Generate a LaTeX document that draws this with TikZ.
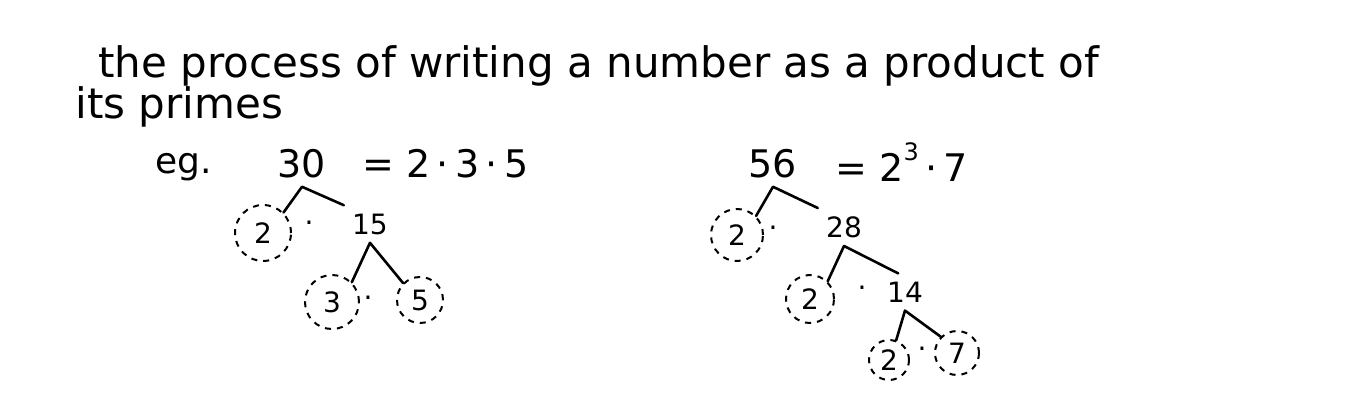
\documentclass[tikz,border=0pt]{standalone}
\usepackage{fontspec}
\setmainfont{DejaVu Sans}
\tikzset{
	txt/.style={anchor=base west, inner sep=0pt, font=\fontsize{21}{25}\selectfont},
	topnum/.style={inner sep=4pt, font=\fontsize{19}{23}\selectfont},
	numb/.style={inner sep=4pt, font=\fontsize{14}{17}\selectfont},
	prime/.style={draw, circle, line width=1pt, dash pattern=on 3pt off 3pt, inner sep=0pt, minimum size=#1, font=\fontsize{14}{17}\selectfont},
	dotnode/.style={inner sep=1pt, font=\fontsize{14}{17}\selectfont},
	branch/.style={line width=1.3pt, line cap=round, line join=round}
}

\begin{document}
\begin{tikzpicture}[x=0.5pt, y=-0.5pt]
			\useasboundingbox (0,0) rectangle (1356,412);
			% definition
			\node[txt] (line1) at (98,77) {the process of writing a number as a product of};
			\node[txt] (line2) at (75,118) {its primes};
			\node[txt, font=\fontsize{18}{22}\selectfont] (eg) at (155,173) {eg.};
			% 30
			\node[topnum] (n30) at (302,164) {30};
			\node[topnum, anchor=west, inner sep=0pt] (eq30) at (362,164) {= 2\,·\,3\,·\,5};
			\node[prime=28pt] (p2) at (263,233) {2};
			\node[dotnode] (d30) at (309,227) {·};
			\node[numb] (n15) at (370,224) {15};
			\node[prime=27pt] (p3) at (332,302) {3};
			\node[dotnode] (d15) at (368,302) {·};
			\node[prime=23pt] (p5) at (420,300) {5};
			\draw[branch] (p2.north east) -- (n30.south) -- (n15.north west);
			\draw[branch] (p3.north east) -- (n15.south) -- (p5.north west);
			% 56
			\node[topnum] (n56) at (773,164) {56};
			\node[topnum, anchor=west, inner sep=0pt] (eq56) at (835,162) {= 2\raisebox{0.55em}{\fontsize{12}{14}\selectfont 3}\,·\,7};
			\node[prime=26pt] (q2a) at (737,235) {2};
			\node[dotnode] (d56) at (773,232) {·};
			\node[numb] (n28) at (844,227) {28};
			\node[prime=24pt] (q2b) at (810,299) {2};
			\node[dotnode] (d28) at (862,292) {·};
			\node[numb] (n14) at (905,292) {14};
			\node[prime=20pt] (q2c) at (889,360) {2};
			\node[dotnode] (d14) at (922,353) {·};
			\node[prime=22pt] (q7) at (957,353) {7};
			\draw[branch] (q2a.north east) -- (n56.south) -- (n28.north west);
			\draw[branch] (q2b.north east) -- (n28.south) -- (n14.110);
			\draw[branch] (q2c.70) -- (n14.south) -- (q7.north west);
		\end{tikzpicture}
\end{document}
